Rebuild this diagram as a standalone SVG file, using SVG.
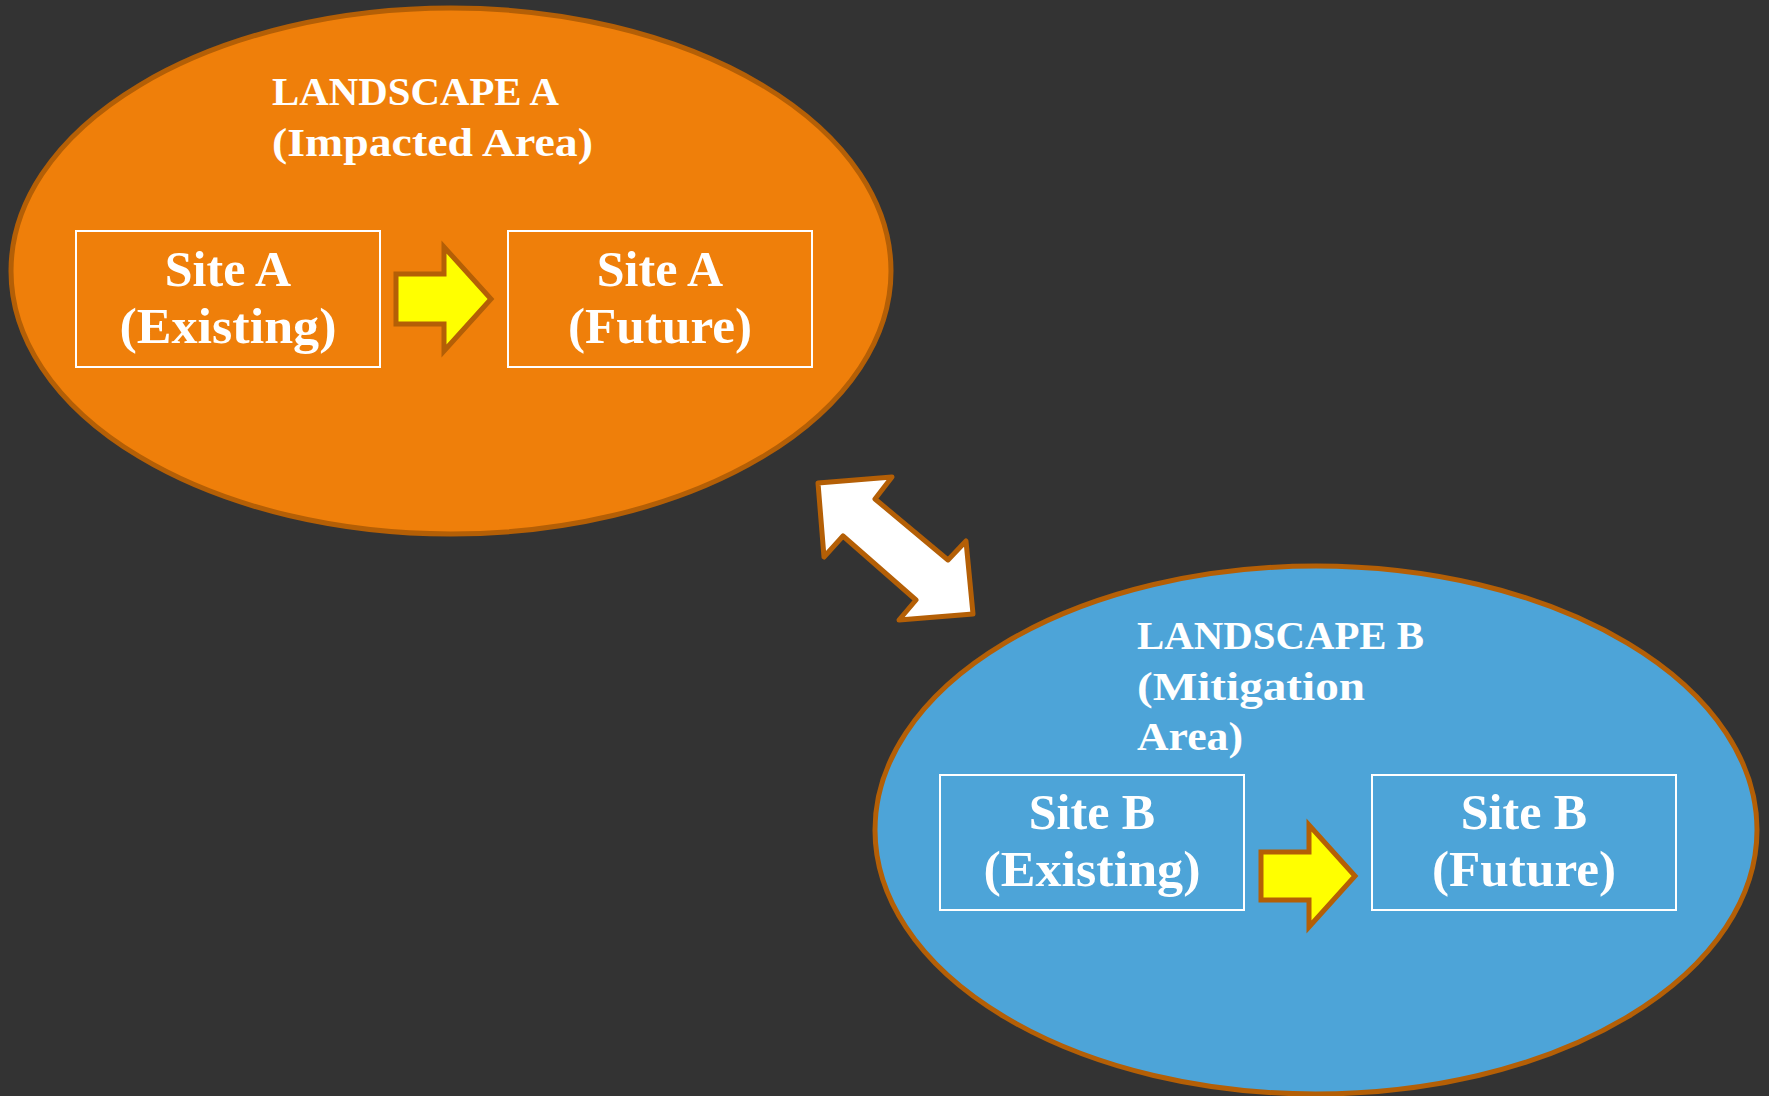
<svg xmlns="http://www.w3.org/2000/svg" width="1769" height="1096" viewBox="0 0 1769 1096">
<style>
.land{stroke:#B45F06;stroke-width:5}
.box{fill:none;stroke:#FFFFFF;stroke-width:2}
.arrow{fill:#FFFF00;stroke:#B45F06;stroke-width:5;stroke-linejoin:miter}
.dbl{fill:#FFFFFF;stroke:#B45F06;stroke-width:5;stroke-linejoin:round}
.title{font-family:"Liberation Serif","Times New Roman",serif;font-weight:bold;font-size:40px;fill:#FFFFFF}
.site{font-family:"Liberation Serif","Times New Roman",serif;font-weight:bold;font-size:50px;fill:#FFFFFF;text-anchor:middle}
</style>
<rect x="0" y="0" width="1769" height="1096" fill="#333333"/>

<g id="landscapeA">
<ellipse class="land" cx="451" cy="271" rx="440" ry="263" fill="#EF7F0A"/>
<text class="title" x="272" y="105" textLength="287" lengthAdjust="spacingAndGlyphs">LANDSCAPE A</text>
<text class="title" x="272" y="156" textLength="321" lengthAdjust="spacingAndGlyphs">(Impacted Area)</text>
</g>

<g id="landscapeB">
<ellipse class="land" cx="1316" cy="830" rx="441" ry="264" fill="#4DA4D8"/>
<text class="title" x="1137" y="649" textLength="287" lengthAdjust="spacingAndGlyphs">LANDSCAPE B</text>
<text class="title" x="1137" y="700" textLength="228" lengthAdjust="spacingAndGlyphs">(Mitigation</text>
<text class="title" x="1137" y="750" textLength="106" lengthAdjust="spacingAndGlyphs">Area)</text>
</g>

<g id="siteA-existing">
<rect class="box" x="76" y="231" width="304" height="136"/>
<text class="site" x="228" y="286">Site A</text>
<text class="site" x="228" y="343" textLength="217" lengthAdjust="spacingAndGlyphs">(Existing)</text>
</g>

<g id="siteA-future">
<rect class="box" x="508" y="231" width="304" height="136"/>
<text class="site" x="660" y="286">Site A</text>
<text class="site" x="660" y="343" textLength="184" lengthAdjust="spacingAndGlyphs">(Future)</text>
</g>

<g id="siteB-existing">
<rect class="box" x="940" y="775" width="304" height="135"/>
<text class="site" x="1092" y="829">Site B</text>
<text class="site" x="1092" y="886" textLength="217" lengthAdjust="spacingAndGlyphs">(Existing)</text>
</g>

<g id="siteB-future">
<rect class="box" x="1372" y="775" width="304" height="135"/>
<text class="site" x="1524" y="829">Site B</text>
<text class="site" x="1524" y="886" textLength="184" lengthAdjust="spacingAndGlyphs">(Future)</text>
</g>

<g id="connectors">
<polygon class="arrow" points="396,274 444,274 444,247 491,299 444,351 444,324 396,324"/>
<polygon class="arrow" points="1261,852 1309,852 1309,825 1355,876 1309,927 1309,900 1261,900"/>
<polygon class="dbl" points="818,483 892,477 875,499 948,560 966,541 973,614 899,620 916,600 843,536 824,557"/>
</g>
</svg>
